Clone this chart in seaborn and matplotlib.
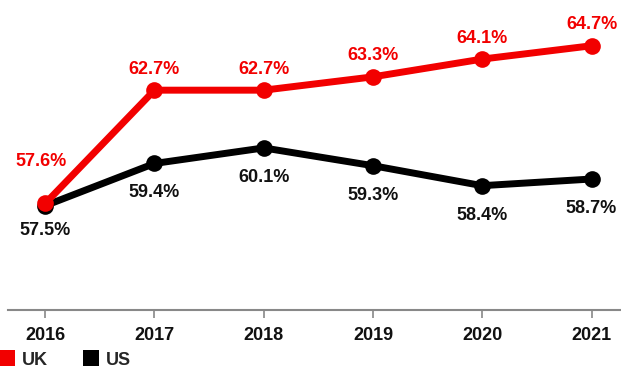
import matplotlib
matplotlib.use("Agg")
import matplotlib.pyplot as plt
from matplotlib.lines import Line2D
import seaborn as sns
import pandas as pd

years = [2016, 2017, 2018, 2019, 2020, 2021]
uk = [57.6, 62.7, 62.7, 63.3, 64.1, 64.7]
us = [57.5, 59.4, 60.1, 59.3, 58.4, 58.7]
series_names = ["UK", "US"]
colors = {"UK": "#f20000", "US": "#000000"}

df = pd.concat([
    pd.DataFrame({"year": years, "value": uk, "country": "UK"}),
    pd.DataFrame({"year": years, "value": us, "country": "US"}),
])

sns.set_theme(style="white")
plt.rcParams["font.family"] = ["Liberation Sans", "DejaVu Sans"]

fig = plt.figure(figsize=(6.21, 3.70), dpi=100)
ax = fig.add_axes([0.013, 0.162, 0.987, 0.838])

sns.lineplot(data=df, x="year", y="value", hue="country", hue_order=["US", "UK"],
             palette=colors, linewidth=5, marker="o", markersize=12,
             markeredgewidth=0, legend=False, ax=ax, sort=False)

# labels
for i, (x, v) in enumerate(zip(years, uk)):
    if i == 0:
        off = (-3, 24)
    else:
        off = (0, 9)
    ax.annotate(f"{v}%", (x, v), xytext=off, textcoords="offset points",
                ha="center", va="bottom", fontsize=13, fontweight="bold",
                color=colors["UK"])
for i, (x, v) in enumerate(zip(years, us)):
    off = (0, -12) if i == 0 else (0, -15)
    ax.annotate(f"{v}%", (x, v), xytext=off, textcoords="offset points",
                ha="center", va="top", fontsize=13, fontweight="bold",
                color="#111111")

ax.set_xlim(2015.66, 2021.27)
ax.set_ylim(52.8, 66.76)
ax.set_xticks(years)
ax.set_xticklabels([str(y) for y in years], fontsize=13, fontweight="bold", color="#111111")
ax.set_yticks([])
ax.set_xlabel("")
ax.set_ylabel("")
for s in ["left", "right", "top"]:
    ax.spines[s].set_visible(False)
ax.spines["bottom"].set_color("#888888")
ax.spines["bottom"].set_linewidth(1.5)
ax.tick_params(axis="x", direction="out", length=6, width=1.2, color="#888888", pad=6, bottom=True)

handles = [Line2D([], [], marker="s", linestyle="", markersize=12,
                  markerfacecolor=colors[n], markeredgewidth=0, label=n) for n in series_names]
leg = fig.legend(handles=handles, loc="lower left", bbox_to_anchor=(-0.026, -0.04), ncol=2,
                 frameon=False, handlelength=0.8, handletextpad=0.4, columnspacing=2.0,
                 prop={"weight": "bold", "size": 13})

fig.savefig("out.png", dpi=100)
